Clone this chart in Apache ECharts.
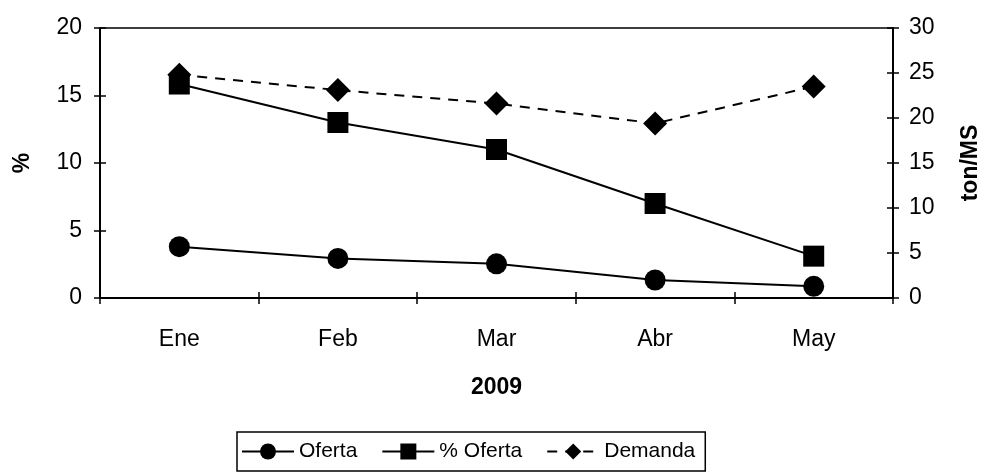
<!DOCTYPE html>
<html>
<head>
<meta charset="utf-8">
<script src="https://cdn.jsdelivr.net/npm/echarts@6/dist/echarts.min.js"></script>
<style>
  html, body { margin: 0; padding: 0; background: #fff; }
  #chart { width: 984px; height: 476px; }
</style>
</head>
<body>
<div id="chart"></div>
<script>
// datos 2009
const meses = ["Ene", "Feb", "Mar", "Abr", "May"];
const oferta = [5.7, 4.4, 3.8, 2.0, 1.3];        // ton/MS
const pctOferta = [15.85, 13.0, 11.0, 7.0, 3.1]; // %
const demanda = [24.8, 23.1, 21.6, 19.4, 23.5];  // ton/MS

const fuente = "Liberation Sans, Arial, sans-serif";
const negro = "#000";
const tamTexto = 23;

// eje "fantasma" para que las marcas crucen la linea del eje (hacia adentro)
function ejeYInterior(pos, max) {
  return {
    type: "value", position: pos, min: 0, max: max, interval: 5,
    splitLine: { show: false },
    axisLine: { show: false },
    axisTick: { show: true, inside: true, length: 6, lineStyle: { color: negro, width: 1.5 } },
    axisLabel: { show: false }
  };
}

var myChart = echarts.init(document.getElementById("chart"));
var option = {
  animation: false,
  textStyle: { fontFamily: fuente, color: negro },
  grid: {
    show: true,
    left: 100,
    right: 91,
    top: 28,
    bottom: 178,
    outerBoundsMode: "none",
    borderColor: negro,
    borderWidth: 1.5
  },
  legend: {
    bottom: 5,
    left: 237,
    itemWidth: 52,
    itemHeight: 20,
    itemGap: 24,
    padding: [9, 10, 9, 4],
    borderColor: negro,
    borderWidth: 1.5,
    textStyle: { fontSize: 21, color: negro, fontFamily: fuente },
    data: ["Oferta", "% Oferta", "Demanda"]
  },
  xAxis: [
    {
      type: "category",
      data: meses,
      boundaryGap: true,
      name: "2009",
      nameLocation: "middle",
      nameGap: 78,
      nameTextStyle: { fontSize: tamTexto, fontWeight: "bold", color: negro },
      axisLine: { lineStyle: { color: negro, width: 2 } },
      axisTick: { show: true, length: 6, lineStyle: { color: negro, width: 1.5 } },
      axisLabel: { fontSize: tamTexto, color: negro, margin: 30 }
    },
    {
      type: "category",
      data: meses,
      position: "bottom",
      boundaryGap: true,
      axisLine: { show: false },
      axisTick: { show: true, inside: true, length: 6, lineStyle: { color: negro, width: 1.5 } },
      axisLabel: { show: false }
    }
  ],
  yAxis: [
    {
      type: "value",
      min: 0,
      max: 20,
      interval: 5,
      name: "%",
      nameLocation: "middle",
      nameGap: 66,
      nameRotate: 90,
      nameTextStyle: { fontSize: tamTexto, fontWeight: "bold", color: negro },
      splitLine: { show: false },
      axisLine: { show: true, lineStyle: { color: negro, width: 2 } },
      axisTick: { show: true, length: 6, lineStyle: { color: negro, width: 1.5 } },
      axisLabel: { fontSize: tamTexto, color: negro, margin: 18 }
    },
    {
      type: "value",
      min: 0,
      max: 30,
      interval: 5,
      name: "ton/MS",
      nameLocation: "middle",
      nameGap: 66,
      nameRotate: 90,
      nameTextStyle: { fontSize: tamTexto, fontWeight: "bold", color: negro },
      splitLine: { show: false },
      axisLine: { show: true, lineStyle: { color: negro, width: 2 } },
      axisTick: { show: true, length: 6, lineStyle: { color: negro, width: 1.5 } },
      axisLabel: { fontSize: tamTexto, color: negro, margin: 16 }
    },
    ejeYInterior("left", 20),
    ejeYInterior("right", 30)
  ],
  series: [
    {
      name: "Oferta",
      type: "line",
      yAxisIndex: 1,
      data: oferta,
      symbol: "circle",
      symbolSize: 21,
      itemStyle: { color: negro },
      lineStyle: { color: negro, width: 2 }
    },
    {
      name: "% Oferta",
      type: "line",
      yAxisIndex: 0,
      data: pctOferta,
      symbol: "rect",
      symbolSize: 21,
      itemStyle: { color: negro },
      lineStyle: { color: negro, width: 2 }
    },
    {
      name: "Demanda",
      type: "line",
      yAxisIndex: 1,
      data: demanda,
      symbol: "diamond",
      symbolSize: 24,
      itemStyle: { color: negro },
      lineStyle: { color: negro, width: 2, type: [10, 8] }
    }
  ]
};
myChart.setOption(option);
</script>
</body>
</html>
